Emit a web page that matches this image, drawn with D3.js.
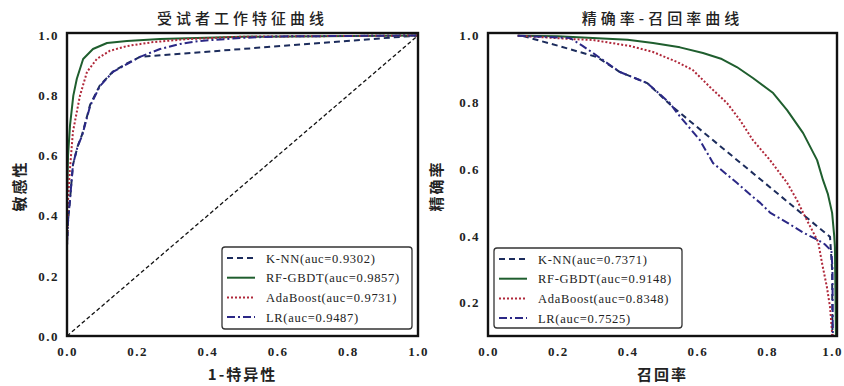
<!DOCTYPE html>
<html><head><meta charset="utf-8">
<script src="https://cdn.jsdelivr.net/npm/d3@7"></script>
<style>body{margin:0;background:#fff}</style></head>
<body><svg id="c" width="844" height="386"></svg>
<script>
// ---------- data ----------
const models = ["K-NN", "RF-GBDT", "AdaBoost", "LR"];
const rocAuc = ["0.9302", "0.9857", "0.9731", "0.9487"];
const prAuc  = ["0.7371", "0.9148", "0.8348", "0.7525"];
const axisTicks = [0, 0.2, 0.4, 0.6, 0.8, 1.0];
const prYTicks = [0.2, 0.4, 0.6, 0.8, 1.0];

// ROC: [1-specificity, sensitivity]
const rocKNN = [[0,0],[0,0.30],[0.003,0.38],[0.009,0.46],[0.017,0.57],[0.03,0.63],[0.043,0.67],[0.066,0.77],[0.094,0.835],[0.131,0.88],[0.171,0.907],[0.208,0.929],[1,1]];
const rocRF  = [[0,0],[0,0.45],[0.003,0.60],[0.0085,0.70],[0.018,0.80],[0.028,0.856],[0.046,0.922],[0.074,0.955],[0.114,0.975],[0.171,0.982],[0.265,0.988],[0.5,0.996],[1,1]];
const rocAda = [[0,0],[0,0.30],[0.003,0.45],[0.008,0.55],[0.017,0.68],[0.037,0.80],[0.057,0.879],[0.085,0.922],[0.122,0.949],[0.171,0.965],[0.245,0.978],[0.342,0.988],[0.5,0.996],[1,1]];
const rocLR  = [[0,0],[0,0.30],[0.003,0.385],[0.009,0.46],[0.017,0.57],[0.03,0.63],[0.043,0.667],[0.066,0.766],[0.094,0.832],[0.131,0.879],[0.171,0.905],[0.208,0.929],[0.265,0.955],[0.322,0.972],[0.379,0.982],[0.5,0.992],[0.6,0.997],[1,1]];
const rocChance = [[0,0],[1,1]];

// PR: [recall, precision]
const prKNN = [[0.1,0.999],[0.2,0.97],[0.292,0.942],[0.312,0.936],[0.378,0.891],[0.456,0.858],[0.53,0.786],[0.98,0.397],[0.986,0.30],[0.987,0.10]];
const prRF  = [[0.085,1.0],[0.2,0.998],[0.3,0.993],[0.4,0.988],[0.473,0.978],[0.55,0.965],[0.616,0.948],[0.67,0.93],[0.713,0.906],[0.759,0.873],[0.817,0.828],[0.857,0.777],[0.903,0.708],[0.943,0.627],[0.96,0.567],[0.974,0.525],[0.986,0.469],[0.992,0.40],[0.994,0.367],[0.996,0.20],[0.997,0.10]];
const prAda = [[0.085,1.0],[0.235,0.99],[0.301,0.987],[0.407,0.969],[0.473,0.951],[0.542,0.921],[0.587,0.897],[0.636,0.846],[0.685,0.798],[0.722,0.747],[0.759,0.687],[0.808,0.627],[0.857,0.559],[0.885,0.508],[0.903,0.469],[0.946,0.382],[0.957,0.319],[0.971,0.247],[0.980,0.187],[0.986,0.109],[0.987,0.10]];
const prLR  = [[0.085,1.0],[0.235,0.993],[0.27,0.97],[0.301,0.948],[0.378,0.891],[0.456,0.858],[0.521,0.798],[0.542,0.768],[0.607,0.687],[0.645,0.618],[0.713,0.559],[0.759,0.517],[0.78,0.499],[0.808,0.47],[0.857,0.44],[0.903,0.41],[0.946,0.387],[0.965,0.375],[0.984,0.355],[0.987,0.30],[0.988,0.10]];

// ---------- styles ----------
const colors = ["#1c2c5c", "#1f5e2e", "#b0283a", "#2b2886"];
const dashes = ["6,4", null, "2,2", "8,3,2,3"];
const serif = "'Liberation Serif','DejaVu Serif',serif";
const cjk = "'Noto Sans CJK SC','Noto Sans CJK JP',sans-serif";

const svg = d3.select("#c");

function panel(opt) {
  const x = d3.scaleLinear().domain([0, 1]).range([opt.x0, opt.x1]);
  const y = d3.scaleLinear().domain(opt.yDomain).range([336, opt.yTop]);
  const g = svg.append("g");
  const clipId = "clip" + opt.id;
  svg.append("clipPath").attr("id", clipId).append("rect")
    .attr("x", opt.x0).attr("y", opt.yTop).attr("width", opt.x1 - opt.x0).attr("height", 336 - opt.yTop);
  const line = d3.line().x(d => x(d[0])).y(d => y(d[1]));
  const lg = g.append("g").attr("clip-path", `url(#${clipId})`);
  if (opt.chance) {
    lg.append("path").attr("d", line(opt.chance)).attr("fill", "none")
      .attr("stroke", "#111").attr("stroke-width", 1.3).attr("stroke-dasharray", "4,2.5");
  }
  opt.series.forEach((s, i) => {
    lg.append("path").attr("d", line(s)).attr("fill", "none")
      .attr("stroke", colors[i]).attr("stroke-width", 2)
      .attr("stroke-dasharray", dashes[i]).attr("stroke-linejoin", "round");
  });
  // frame
  g.append("rect").attr("x", opt.x0).attr("y", opt.yTop - 1)
    .attr("width", opt.x1 - opt.x0).attr("height", 336 - opt.yTop + 1)
    .attr("fill", "none").attr("stroke", "#111").attr("stroke-width", 2.4);
  // axes (labels only)
  const xa = g.append("g").attr("transform", "translate(0,336)")
    .call(d3.axisBottom(x).tickValues(axisTicks).tickFormat(d3.format(".1f")).tickSize(0).tickPadding(11));
  const ya = g.append("g").attr("transform", `translate(${opt.x0},0)`)
    .call(d3.axisLeft(y).tickValues(opt.yTicks).tickFormat(d3.format(".1f")).tickSize(0).tickPadding(8));
  [xa, ya].forEach(a => {
    a.select(".domain").remove();
    a.selectAll("text").attr("font-family", serif).attr("font-size", 13)
      .attr("font-weight", "bold").attr("fill", "#222").attr("letter-spacing", 1.5);
  });
  if (opt.lastTickShift) {
    xa.selectAll(".tick text").filter(d => d === 1).attr("dx", opt.lastTickShift);
  }
  // titles
  const cx = (opt.x0 + opt.x1) / 2;
  g.append("text").attr("x", cx).attr("y", 24).attr("text-anchor", "middle")
    .attr("font-family", cjk).attr("font-size", 15).attr("font-weight", 500)
    .attr("letter-spacing", opt.titleSpacing).attr("fill", "#222").text(opt.title);
  g.append("text").attr("x", cx).attr("y", 380).attr("text-anchor", "middle")
    .attr("font-family", cjk).attr("font-size", 15).attr("font-weight", 700)
    .attr("letter-spacing", 2).attr("fill", "#222").text(opt.xLabel);
  g.append("text").attr("transform", `translate(${opt.yLabelX},186) rotate(-90)`)
    .attr("text-anchor", "middle").attr("font-family", cjk).attr("font-size", 15)
    .attr("font-weight", 700).attr("letter-spacing", 2).attr("fill", "#222").text(opt.yLabel);
  // legend
  const L = opt.legend;
  g.append("rect").attr("x", L.x).attr("y", L.y).attr("width", L.w).attr("height", L.h)
    .attr("rx", 3).attr("fill", "#fff").attr("stroke", "#333").attr("stroke-width", 1.3);
  models.forEach((m, i) => {
    const yy = L.y + 11 + i * 19.7;
    g.append("line").attr("x1", L.x + 5).attr("x2", L.x + 33).attr("y1", yy).attr("y2", yy)
      .attr("stroke", colors[i]).attr("stroke-width", 2).attr("stroke-dasharray", dashes[i]);
    g.append("text").attr("x", L.x + 44).attr("y", yy + 4.5)
      .attr("font-family", serif).attr("font-size", 12.5).attr("letter-spacing", 0.7)
      .attr("fill", "#222").text(`${m}(auc=${opt.auc[i]})`);
  });
}

panel({
  id: 1, x0: 67, x1: 418, yDomain: [0, 1.005], yTop: 34, yTicks: axisTicks,
  series: [rocKNN, rocRF, rocAda, rocLR], chance: rocChance,
  title: "受试者工作特征曲线", titleSpacing: 4, xLabel: "1-特异性", yLabel: "敏感性", yLabelX: 25,
  auc: rocAuc, legend: { x: 222, y: 247, w: 190, h: 82 }
});
panel({
  id: 2, x0: 488, x1: 837, yDomain: [0.1, 1.005], yTop: 34, yTicks: prYTicks,
  series: [prKNN, prRF, prAda, prLR], chance: null, lastTickShift: -5,
  title: "精确率-召回率曲线", titleSpacing: 4, xLabel: "召回率", yLabel: "精确率", yLabelX: 442,
  auc: prAuc, legend: { x: 494, y: 248, w: 188, h: 80 }
});
</script></body></html>
